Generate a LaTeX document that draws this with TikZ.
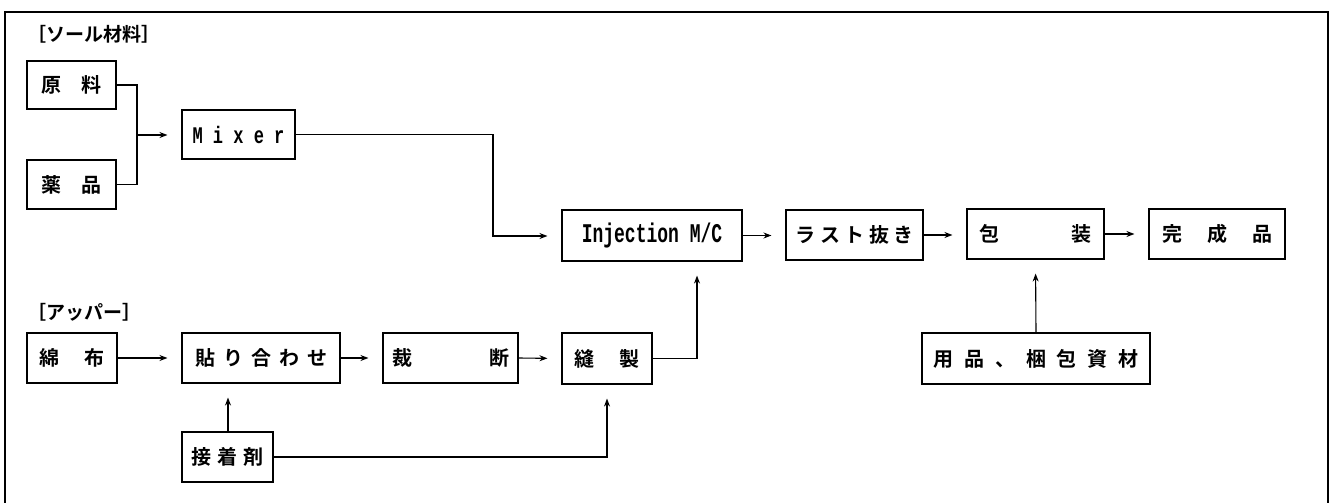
\documentclass[tikz,border=0pt]{standalone}
\usepackage{fontspec}
\usepackage{graphicx}
\setmainfont{Noto Sans CJK JP}[BoldFont={Noto Sans CJK JP Bold}]
\newfontfamily\lat{Liberation Mono}
\usetikzlibrary{arrows.meta}
\tikzset{
  boxn/.style={draw, line width=1.1pt, inner sep=0pt, anchor=center, font=\fontsize{20}{22}\selectfont\bfseries},
  conn/.style={line width=1.1pt},
  arr/.style={conn, -{Stealth[length=8pt,width=6pt]}, shorten >=14pt},
  lbl/.style={anchor=west, inner sep=0pt, font=\fontsize{19}{21}\selectfont\bfseries},
}
\newcommand{\spr}[2]{\makebox[#1pt]{#2}}
\begin{document}
\begin{tikzpicture}[x=1pt,y=-1pt]
\useasboundingbox (0,0) rectangle (1333,503);
\fill[white] (0,0) rectangle (1333,503);
\draw[line width=1.2pt] (5,503) -- (5,12) -- (1328,12) -- (1328,503);

\node[lbl] (sole) at (27,34) {［ソール材料］};
\node[lbl] (upper) at (27,312) {［アッパー］};

\node[boxn, minimum width=89pt, minimum height=48pt] (genryo) at (71.5,85) {\spr{60}{原\hfill 料}};
\node[boxn, minimum width=89pt, minimum height=49pt] (yakuhin) at (71.5,184.5) {\spr{60}{薬\hfill 品}};
\node[boxn, minimum width=113pt, minimum height=49pt] (mixer) at (238.5,134.5) {\scalebox{1}[1.4]{\lat\fontsize{17}{20}\selectfont\bfseries M i x e r}};
\node[boxn, minimum width=180pt, minimum height=51pt] (inj) at (652,235.5) {\scalebox{1}[1.5]{\lat\fontsize{18}{20}\selectfont\bfseries Injection M/C}};
\node[boxn, minimum width=137pt, minimum height=50pt] (last) at (854.5,235) {\spr{118}{ラ\hfill ス\hfill ト\hfill 抜\hfill き}};
\node[boxn, minimum width=137pt, minimum height=50pt] (hoso) at (1035.5,234) {\spr{112}{包\hfill 装}};
\node[boxn, minimum width=136pt, minimum height=50pt] (kansei) at (1217,234) {\spr{110}{完\hfill 成\hfill 品}};
\node[boxn, minimum width=228pt, minimum height=51pt] (yohin) at (1036,358.5) {\spr{205}{用\hfill 品\hfill 、\hfill 梱\hfill 包\hfill 資\hfill 材}};

\node[boxn, minimum width=90pt, minimum height=50pt] (menpu) at (72,358) {\spr{65}{綿\hfill 布}};
\node[boxn, minimum width=158pt, minimum height=50pt] (hari) at (261,358) {\spr{132}{貼\hfill り\hfill 合\hfill わ\hfill せ}};
\node[boxn, minimum width=135pt, minimum height=50pt] (saidan) at (450.5,358) {\spr{117}{裁\hfill 断}};
\node[boxn, minimum width=90pt, minimum height=51pt] (hosei) at (607,358.5) {\spr{65}{縫\hfill 製}};
\node[boxn, minimum width=91pt, minimum height=50pt] (secchaku) at (227.5,457) {\spr{72}{接\hfill 着\hfill 剤}};

\coordinate (jn) at (137,135);
\coordinate (mx) at (493,236);
\coordinate (hx) at (697,300);
\coordinate (sx) at (228,420);

% sole materials
\draw[conn] (genryo.east) -| (jn) |- (yakuhin.east);
\draw[arr] (jn) -- (mixer.west |- jn);
\draw[arr] (mixer.east) -| (mx) -- (inj.west |- mx);
\draw[arr] (inj.east) -- (last.west |- inj.east);
\draw[arr] (last.east) -- (hoso.west |- last.east);
\draw[arr] (hoso.east) -- (kansei.west);
\draw[arr] (yohin.north) -- (hoso.south);

% upper
\draw[arr] (menpu.east) -- (hari.west);
\draw[arr] (hari.east) -- (saidan.west);
\draw[arr] (saidan.east) -- (hosei.west);
\draw[arr] (hosei.east) -| (hx) -- (hx |- inj.south);
\draw[arr] (sx |- secchaku.north) -- (sx |- hari.south);
\draw[arr] (secchaku.east) -| (hosei.south);
\end{tikzpicture}
\end{document}
